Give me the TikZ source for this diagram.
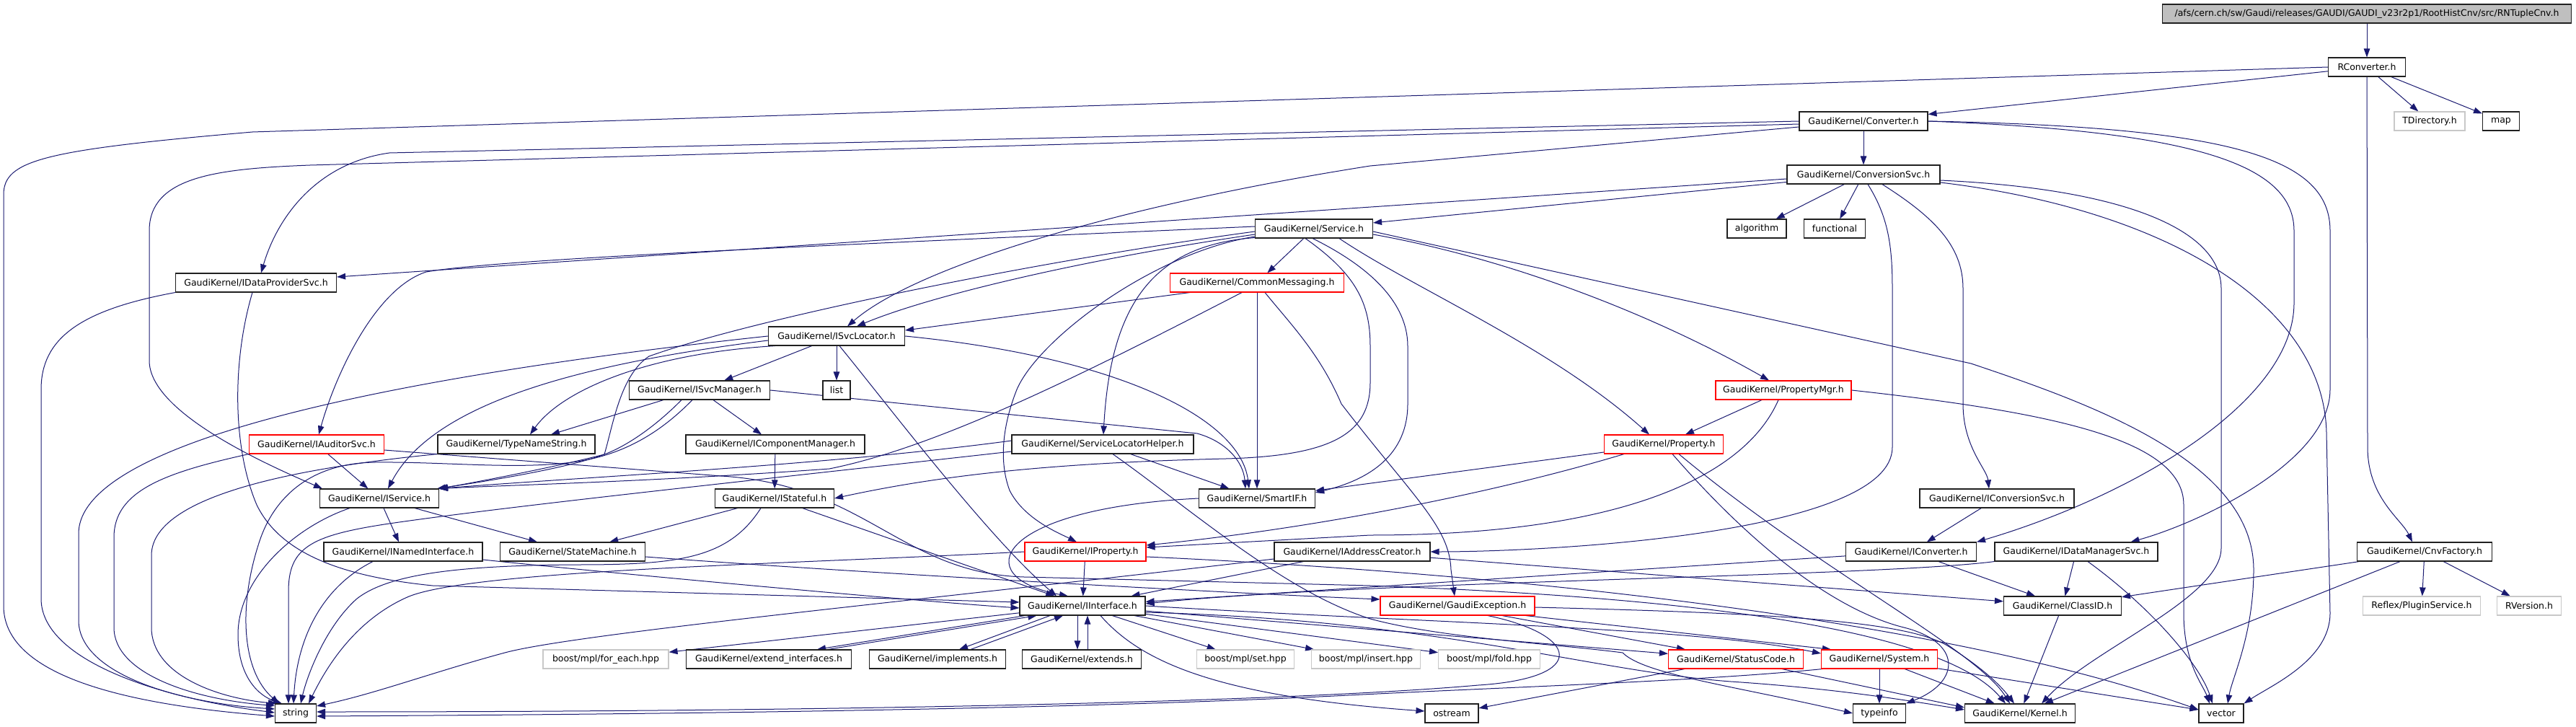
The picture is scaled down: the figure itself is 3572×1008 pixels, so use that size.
\documentclass[tikz,border=0pt]{standalone}
\usepackage{fontspec}
\setmainfont{DejaVu Sans}
\usetikzlibrary{arrows.meta,calc}
\definecolor{edgeblue}{HTML}{191970}
\definecolor{rootgray}{HTML}{BFBFBF}
\definecolor{lgray}{HTML}{C8C8C8}
\definecolor{nred}{HTML}{FF0000}
\definecolor{nborder}{HTML}{202020}
\pgfdeclarelayer{edgelayer}
\pgfsetlayers{edgelayer,main}
\begin{document}
\begin{tikzpicture}[x=1pt,y=-1pt,
  box/.style={draw=nborder, line width=1.1pt, fill=white, minimum height=26pt, inner xsep=0pt, inner ysep=0pt, font=\fontsize{12.5}{15}\selectfont},
  redbox/.style={box, draw=nred},
  greybox/.style={box, draw=lgray},
  dep/.style={draw=edgeblue, line width=1.0pt, -{Triangle[length=12pt,width=8.5pt]}}]
\useasboundingbox (0,0) rectangle (3572,1008);
% ---------------- nodes ----------------
\node[box,fill=rootgray,minimum width=567pt] (root) at (3282,19) {/afs/cern.ch/sw/Gaudi/releases/GAUDI/GAUDI\_v23r2p1/RootHistCnv/src/RNTupleCnv.h};
\node[box,minimum width=107pt] (RConverter) at (3282,93) {RConverter.h};
\node[box,minimum width=178pt] (Converter) at (2584,168) {GaudiKernel/Converter.h};
\node[greybox,minimum width=98pt] (TDirectory) at (3369,168) {TDirectory.h};
\node[box,minimum width=51pt] (map) at (3468,168) {map};
\node[box,minimum width=212pt] (ConversionSvc) at (2584,242) {GaudiKernel/ConversionSvc.h};
\node[box,minimum width=163pt] (Service) at (1822,317) {GaudiKernel/Service.h};
\node[box,minimum width=82pt] (algorithm) at (2436,317) {algorithm};
\node[box,minimum width=85pt] (functional) at (2544,317) {functional};
\node[box,minimum width=223pt] (IDataProviderSvc) at (355,392) {GaudiKernel/IDataProviderSvc.h};
\node[redbox,minimum width=241pt] (CommonMessaging) at (1743,392) {GaudiKernel/CommonMessaging.h};
\node[box,minimum width=189pt] (ISvcLocator) at (1160,466) {GaudiKernel/ISvcLocator.h};
\node[box,minimum width=195pt] (ISvcManager) at (970,541) {GaudiKernel/ISvcManager.h};
\node[box,minimum width=38pt] (list) at (1160,541) {list};
\node[redbox,minimum width=188pt] (PropertyMgr) at (2473,541) {GaudiKernel/PropertyMgr.h};
\node[redbox,minimum width=187pt] (IAuditorSvc) at (439,616) {GaudiKernel/IAuditorSvc.h};
\node[box,minimum width=218pt] (TypeNameString) at (716,616) {GaudiKernel/TypeNameString.h};
\node[box,minimum width=248pt] (IComponentManager) at (1075,616) {GaudiKernel/IComponentManager.h};
\node[box,minimum width=252pt] (ServiceLocatorHelper) at (1529,616) {GaudiKernel/ServiceLocatorHelper.h};
\node[redbox,minimum width=165pt] (Property) at (2307,616) {GaudiKernel/Property.h};
\node[box,minimum width=165pt] (IService) at (526,691) {GaudiKernel/IService.h};
\node[box,minimum width=165pt] (IStateful) at (1074,691) {GaudiKernel/IStateful.h};
\node[box,minimum width=161pt] (SmartIF) at (1743,691) {GaudiKernel/SmartIF.h};
\node[box,minimum width=214pt] (IConversionSvc) at (2769,691) {GaudiKernel/IConversionSvc.h};
\node[box,minimum width=220pt] (INamedInterface) at (559,765) {GaudiKernel/INamedInterface.h};
\node[box,minimum width=201pt] (StateMachine) at (794,765) {GaudiKernel/StateMachine.h};
\node[redbox,minimum width=168pt] (IProperty) at (1505,765) {GaudiKernel/IProperty.h};
\node[box,minimum width=216pt] (IAddressCreator) at (1875,765) {GaudiKernel/IAddressCreator.h};
\node[box,minimum width=181pt] (IConverter) at (2650,765) {GaudiKernel/IConverter.h};
\node[box,minimum width=226pt] (IDataManagerSvc) at (2879,765) {GaudiKernel/IDataManagerSvc.h};
\node[box,minimum width=187pt] (CnvFactory) at (3362,765) {GaudiKernel/CnvFactory.h};
\node[box,minimum width=174pt] (IInterface) at (1501,840) {GaudiKernel/IInterface.h};
\node[redbox,minimum width=214pt] (GaudiException) at (2021,840) {GaudiKernel/GaudiException.h};
\node[box,minimum width=163pt] (ClassID) at (2860,840) {GaudiKernel/ClassID.h};
\node[greybox,minimum width=163pt] (PluginService) at (3358,840) {Reflex/PluginService.h};
\node[greybox,minimum width=89pt] (RVersion) at (3507,840) {RVersion.h};
\node[greybox,minimum width=174pt] (foreach) at (840,914) {boost/mpl/for\_each.hpp};
\node[box,minimum width=229pt] (extendif) at (1066,914) {GaudiKernel/extend\_interfaces.h};
\node[box,minimum width=189pt] (implements) at (1300,914) {GaudiKernel/implements.h};
\node[box,minimum width=165pt] (extends) at (1500,914) {GaudiKernel/extends.h};
\node[greybox,minimum width=135pt] (mplset) at (1727,914) {boost/mpl/set.hpp};
\node[greybox,minimum width=151pt] (mplinsert) at (1894,914) {boost/mpl/insert.hpp};
\node[greybox,minimum width=141pt] (mplfold) at (2065,914) {boost/mpl/fold.hpp};
\node[redbox,minimum width=187pt] (StatusCode) at (2407,914) {GaudiKernel/StatusCode.h};
\node[redbox,minimum width=161pt] (System) at (2606,914) {GaudiKernel/System.h};
\node[box,minimum width=57pt] (string) at (410,989) {string};
\node[box,minimum width=74pt] (ostream) at (2013,989) {ostream};
\node[box,minimum width=73pt] (typeinfo) at (2606,989) {typeinfo};
\node[box,minimum width=153pt] (Kernel) at (2801,989) {GaudiKernel/Kernel.h};
\node[box,minimum width=62pt] (vector) at (3080,989) {vector};
% ---------------- edges ----------------
\begin{pgfonlayer}{edgelayer}
% root / RConverter
\draw[dep] (root) -- (RConverter);
\draw[dep] (RConverter) -- (Converter);
\draw[dep] (RConverter) -- (TDirectory);
\draw[dep] (RConverter) -- (map);
\draw[dep] (RConverter) -- (3283,620) .. controls (3283,690) and (3330,720) .. ($(CnvFactory.north)+(-17,0)$);
\draw[dep] (RConverter.west) -- (350,183) .. controls (60,208) and (5,222) .. (5,270) -- (5,840) .. controls (5,930) and (150,975) .. ($(string.west)+(0,4)$);
% Converter
\draw[dep] (Converter) -- (ConversionSvc);
\draw[dep] (Converter.west) -- (540,212) .. controls (440,226) and (385,300) .. ($(IDataProviderSvc.north)+(7,0)$);
\draw[dep] ($(Converter.west)+(0,4)$) -- (430,229) .. controls (300,234) and (207,245) .. (207,320) -- (207,500) .. controls (207,570) and (360,640) .. ($(IService.north west)+(4,0)$);
\draw[dep] ($(Converter.west)+(0,8)$) -- (1900,230) .. controls (1550,285) and (1270,370) .. ($(ISvcLocator.north)+(15,0)$);
\draw[dep] (Converter.east) .. controls (3050,182) and (3181,230) .. (3181,320) -- (3181,420) .. controls (3181,560) and (2950,690) .. (IConverter.north east);
\draw[dep] (Converter.east) .. controls (3100,176) and (3231,220) .. (3231,320) -- (3231,540) .. controls (3231,640) and (3050,725) .. ($(IDataManagerSvc.north east)+(-38,0)$);
% CnvFactory
\draw[dep] (CnvFactory) -- (ClassID);
\draw[dep] (CnvFactory) -- (Kernel);
\draw[dep] (CnvFactory) -- (PluginService);
\draw[dep] (CnvFactory) -- (RVersion);
% ConversionSvc
\draw[dep] (ConversionSvc) -- (Service);
\draw[dep] ($(ConversionSvc.west)+(0,6)$) -- ($(IDataProviderSvc.east)+(0,-8)$);
\draw[dep] (ConversionSvc) -- (algorithm);
\draw[dep] (ConversionSvc) -- (functional);
\draw[dep] ($(ConversionSvc.south)+(6,0)$) .. controls (2618,300) and (2624,340) .. (2624,400) -- (2624,620) .. controls (2624,740) and (2150,765) .. (IAddressCreator.east);
\draw[dep] ($(ConversionSvc.south)+(26,0)$) .. controls (2680,300) and (2722,340) .. (2722,400) -- (2722,560) .. controls (2722,620) and (2755,650) .. ($(IConversionSvc.north)+(-11,0)$);
\draw[dep] ($(ConversionSvc.east)+(0,8)$) .. controls (2950,262) and (3080,320) .. (3080,400) -- (3080,760) .. controls (3080,830) and (2900,900) .. ($(Kernel.north east)+(-47,0)$);
\draw[dep] ($(ConversionSvc.east)+(0,11)$) .. controls (3000,290) and (3222,420) .. (3226,600) -- (3231,850) .. controls (3231,915) and (3150,950) .. (vector.north east);
% IDataProviderSvc
\draw[dep] (IDataProviderSvc.south west) .. controls (110,430) and (57,470) .. (57,540) -- (57,830) .. controls (57,915) and (220,968) .. ($(string.west)+(0,-1)$);
\draw[dep] ($(IDataProviderSvc.south)+(-5,0)$) .. controls (322,500) and (322,620) .. (356,700) .. controls (390,770) and (480,800) .. (600,812) -- ($(IInterface.west)+(0,-5)$);
% ISvcLocator
\draw[dep] (ISvcLocator.west) .. controls (700,505) and (109,590) .. (109,740) -- (109,860) .. controls (109,935) and (250,975) .. ($(string.west)+(0,-6)$);
\draw[dep] ($(ISvcLocator.west)+(0,6)$) .. controls (800,505) and (600,560) .. ($(IService.north)+(12,0)$);
\draw[dep] ($(ISvcLocator.south west)+(10,0)$) .. controls (900,490) and (780,540) .. ($(TypeNameString.north)+(19,0)$);
\draw[dep] (ISvcLocator) -- (ISvcManager);
\draw[dep] (ISvcLocator) -- (list);
\draw[dep] (ISvcLocator.east) .. controls (1550,495) and (1720,580) .. ($(SmartIF.north)+(-11,0)$);
\draw[dep] ($(ISvcLocator.south)+(4,0)$) .. controls (1230,560) and (1370,745) .. ($(IInterface.north)+(-36,0)$);
% IService
\draw[dep] ($(IService.south)+(-41,0)$) .. controls (410,730) and (330,800) .. (330,880) .. controls (330,940) and (360,965) .. ($(string.north west)+(10,0)$);
\draw[dep] (IService) -- (INamedInterface);
\draw[dep] (IService) -- (StateMachine);
% INamedInterface
\draw[dep] ($(INamedInterface.south)+(-42,0)$) .. controls (450,812) and (412,880) .. ($(string.north)+(-3,0)$);
\draw[dep] ($(INamedInterface.east)+(0,11)$) .. controls (800,790) and (1250,832) .. ($(IInterface.west)+(0,3)$);
% StateMachine
\draw[dep] ($(StateMachine.east)+(0,7)$) .. controls (1200,795) and (1700,822) .. ($(GaudiException.west)+(0,-9)$);
% IAuditorSvc
\draw[dep] (IAuditorSvc) -- (IService);
\draw[dep] (IAuditorSvc.south west) .. controls (230,655) and (158,680) .. (158,745) -- (158,870) .. controls (158,935) and (270,970) .. ($(string.north west)+(0,3)$);
\draw[dep] ($(IAuditorSvc.east)+(0,8)$) -- (1000,660) .. controls (1200,672) and (1250,795) .. (1420,800) -- (1900,812) .. controls (2400,830) and (2700,880) .. ($(Kernel.north)+(-20,0)$);
% TypeNameString
\draw[dep] (TypeNameString.south west) .. controls (450,645) and (210,680) .. (210,770) -- (210,870) .. controls (210,935) and (300,968) .. ($(string.north west)+(3,0)$);
% ISvcManager
\draw[dep] (ISvcManager) -- (IComponentManager);
\draw[dep] ($(ISvcManager.south)+(-50,0)$) -- ($(TypeNameString.north)+(48,0)$);
\draw[dep] ($(ISvcManager.south)+(-25,0)$) .. controls (900,600) and (860,622) .. (838,630) .. controls (780,645) and (680,665) .. (IService.north east);
\draw[dep] ($(ISvcManager.south)+(-10,0)$) .. controls (930,585) and (880,628) .. (800,640) .. controls (720,652) and (620,640) .. (520,641) .. controls (430,642) and (380,690) .. (360,750) .. controls (330,840) and (335,930) .. ($(string.north west)+(6,0)$);
\draw[dep] (ISvcManager.east) -- (1660,601) .. controls (1700,612) and (1724,640) .. ($(SmartIF.north)+(-16,0)$);
% IComponentManager
\draw[dep] (IComponentManager) -- (IStateful);
% ServiceLocatorHelper
\draw[dep] ($(ServiceLocatorHelper.west)+(0,-5)$) .. controls (1150,645) and (800,662) .. (IService.north east);
\draw[dep] ($(ServiceLocatorHelper.west)+(0,10)$) .. controls (1100,660) and (700,702) .. (533,727) .. controls (430,743) and (400,760) .. (400,820) -- ($(string.north)+(-10,0)$);
\draw[dep] (ServiceLocatorHelper) -- (SmartIF);
\draw[dep] ($(ServiceLocatorHelper.south)+(14,0)$) .. controls (1650,705) and (1780,820) .. (1900,858) .. controls (2000,885) and (2150,892) .. (2250,905) .. controls (2280,935) and (2400,950) .. (typeinfo.west);
% IStateful
\draw[dep] (IStateful) -- (IInterface);
\draw[dep] (IStateful) -- (StateMachine);
\draw[dep] ($(IStateful.south)+(-19,0)$) .. controls (1010,775) and (940,783) .. (800,783) .. controls (640,784) and (540,795) .. (495,830) .. controls (450,870) and (425,940) .. ($(string.north)+(7,0)$);
% SmartIF
\draw[dep] (SmartIF.west) .. controls (1380,705) and (1340,800) .. ($(IInterface.north)+(-20,0)$);
% PropertyMgr
\draw[dep] (PropertyMgr) -- (Property);
\draw[dep] ($(PropertyMgr.south)+(-7,0)$) .. controls (2420,660) and (2250,742) .. (1900,742) -- ($(IProperty.east)+(0,-6)$);
\draw[dep] (PropertyMgr.east) .. controls (2850,572) and (3028,610) .. (3028,700) -- (3028,850) .. controls (3028,920) and (3055,950) .. ($(vector.north)+(-16,0)$);
% Property
\draw[dep] (Property) -- (SmartIF);
\draw[dep] ($(Property.south west)+(28,0)$) .. controls (2050,690) and (1800,735) .. ($(IProperty.east)+(0,-9)$);
\draw[dep] ($(Property.south)+(12,0)$) .. controls (2450,780) and (2560,850) .. (2640,870) .. controls (2720,890) and (2720,945) .. (typeinfo.north east);
\draw[dep] ($(Property.south)+(21,0)$) .. controls (2520,790) and (2740,900) .. ($(Kernel.north)+(-14,0)$);
% IProperty
\draw[dep] (IProperty) -- (IInterface);
\draw[dep] (IProperty.west) .. controls (1100,782) and (660,790) .. (567,827) .. controls (490,860) and (450,930) .. ($(string.north)+(18,0)$);
\draw[dep] ($(IProperty.east)+(0,7)$) .. controls (2100,795) and (2700,860) .. ($(vector.west)+(0,-5)$);
% IAddressCreator
\draw[dep] (IAddressCreator) -- (IInterface);
\draw[dep] (IAddressCreator) -- (ClassID);
\draw[dep] ($(IAddressCreator.west)+(0,10)$) .. controls (1300,830) and (800,878) .. (700,905) .. controls (600,932) and (520,962) .. ($(string.east)+(0,-10)$);
% IConversionSvc / IConverter / IDataManagerSvc / ClassID
\draw[dep] (IConversionSvc) -- (IConverter);
\draw[dep] (IConverter) -- (IInterface);
\draw[dep] (IConverter) -- (ClassID);
\draw[dep] (IDataManagerSvc) -- (ClassID);
\draw[dep] ($(IDataManagerSvc.south)+(16,0)$) .. controls (2980,840) and (3050,920) .. ($(vector.north)+(-12,0)$);
\draw[dep] (IDataManagerSvc.south west) .. controls (2600,800) and (1900,805) .. ($(IInterface.east)+(0,-3)$);
\draw[dep] (ClassID) -- (Kernel);
% IInterface
\draw[dep] ($(IInterface.south west)+(8,0)$) -- ($(extendif.north)+(67,0)$);
\draw[dep] ($(extendif.north)+(82,0)$) -- ($(IInterface.south west)+(24,0)$);
\draw[dep] ($(IInterface.south)+(-45,0)$) -- ($(implements.north)+(30,0)$);
\draw[dep] ($(implements.north)+(46,0)$) -- ($(IInterface.south)+(-27,0)$);
\draw[dep] ($(IInterface.south)+(-7,0)$) -- ($(extends.north)+(-6,0)$);
\draw[dep] ($(extends.north)+(8,0)$) -- ($(IInterface.south)+(7,0)$);
\draw[dep] (IInterface) -- (foreach);
\draw[dep] (IInterface) -- (mplset);
\draw[dep] (IInterface) -- (mplinsert);
\draw[dep] (IInterface) -- (mplfold);
\draw[dep] (IInterface) -- (StatusCode);
\draw[dep] (IInterface.east) .. controls (2000,865) and (2350,870) .. ($(System.west)+(0,-8)$);
\draw[dep] ($(IInterface.east)+(0,9)$) .. controls (2000,860) and (2200,930) .. (2400,945) .. controls (2550,955) and (2650,972) .. ($(Kernel.west)+(0,-5)$);
\draw[dep] ($(IInterface.south)+(25,0)$) .. controls (1580,915) and (1680,965) .. ($(ostream.west)+(0,-3)$);
% GaudiException
\draw[dep] ($(GaudiException.south)+(62,0)$) -- ($(StatusCode.north west)+(24,0)$);
\draw[dep] ($(GaudiException.south east)+(-13,0)$) -- ($(System.north west)+(14,0)$);
\draw[dep] ($(GaudiException.east)+(0,2)$) .. controls (2450,850) and (2640,860) .. (2700,895) .. controls (2740,920) and (2770,945) .. ($(Kernel.north)+(-8,0)$);
\draw[dep] ($(GaudiException.south)+(42,0)$) .. controls (2190,880) and (2205,940) .. (2050,950) .. controls (1800,972) and (1200,987) .. ($(string.east)+(0,-2)$);
% StatusCode
\draw[dep] (StatusCode) -- (ostream);
\draw[dep] ($(StatusCode.south east)+(-30,0)$) -- ($(Kernel.west)+(0,-8)$);
% System
\draw[dep] (System) -- (typeinfo);
\draw[dep] (System) -- (Kernel);
\draw[dep] (System) -- (vector);
\draw[dep] ($(System.south west)+(2,0)$) .. controls (2350,945) and (2100,952) .. (1850,965) .. controls (1500,982) and (1000,990) .. ($(string.east)+(0,4)$);
% Service
\draw[dep] (Service) -- (CommonMessaging);
\draw[dep] ($(Service.west)+(0,8)$) .. controls (1500,360) and (1290,410) .. ($(ISvcLocator.north)+(28,0)$);
\draw[dep] ($(Service.west)+(0,4)$) .. controls (1450,360) and (1050,440) .. (900,494) .. controls (860,520) and (850,590) .. (838,630) .. controls (790,648) and (690,665) .. ($(IService.north east)+(-3,0)$);
\draw[dep] ($(Service.west)+(0,-3)$) .. controls (1200,338) and (700,358) .. (591,377) .. controls (520,400) and (465,520) .. ($(IAuditorSvc.north)+(3,0)$);
\draw[dep] ($(Service.west)+(0,11)$) .. controls (1600,350) and (1440,470) .. (1410,540) .. controls (1390,590) and (1385,640) .. (1400,680) .. controls (1420,720) and (1470,740) .. ($(IProperty.north)+(-12,0)$);
\draw[dep] ($(Service.south)+(-12,0)$) .. controls (1880,380) and (1900,420) .. (1900,480) -- (1900,530) .. controls (1900,600) and (1850,632) .. (1700,636) .. controls (1450,642) and (1300,660) .. (IStateful.east);
\draw[dep] ($(Service.south)+(-2,0)$) .. controls (1900,370) and (1952,420) .. (1952,480) -- (1952,560) .. controls (1952,630) and (1900,665) .. ($(SmartIF.east)+(0,-8)$);
\draw[dep] ($(Service.south)+(35,0)$) .. controls (1960,400) and (2150,480) .. ($(Property.north west)+(63,0)$);
\draw[dep] ($(Service.east)+(0,8)$) .. controls (2100,360) and (2300,440) .. ($(PropertyMgr.north)+(-20,0)$);
\draw[dep] ($(Service.east)+(0,4)$) -- (2733,504) .. controls (2900,560) and (3125,640) .. (3125,790) .. controls (3125,880) and (3095,940) .. ($(vector.north)+(9,0)$);
\draw[dep] ($(Service.south west)+(0,-1)$) .. controls (1600,340) and (1540,420) .. ($(ServiceLocatorHelper.north)+(1,0)$);
% CommonMessaging
\draw[dep] ($(CommonMessaging.south west)+(28,0)$) -- ($(ISvcLocator.east)+(0,-8)$);
\draw[dep] ($(CommonMessaging.south)+(-21,0)$) .. controls (1500,520) and (1300,620) .. (1150,650) .. controls (900,668) and (720,672) .. (IService.north east);
\draw[dep] (CommonMessaging) -- (SmartIF);
\draw[dep] ($(CommonMessaging.south)+(11,0)$) .. controls (1790,450) and (1830,490) .. (1860,560) .. controls (1960,690) and (2010,730) .. (2012,790) -- ($(GaudiException.north)+(-4,0)$);
\end{pgfonlayer}
\end{tikzpicture}
\end{document}
